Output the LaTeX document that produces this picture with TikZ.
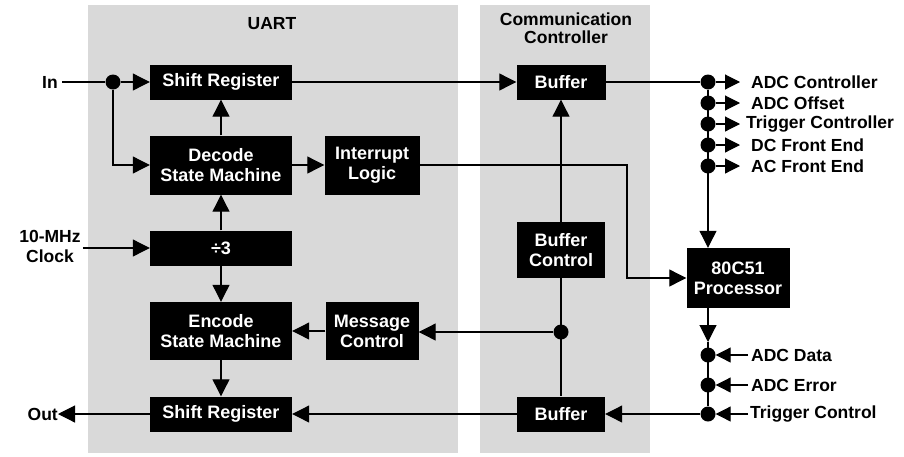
\documentclass[tikz,border=0pt]{standalone}
\usepackage{fontspec}
\setmainfont{Liberation Sans}
\usetikzlibrary{arrows.meta}
\tikzset{
  panel/.style={fill=gray!30, draw=none},
  blk/.style={fill=black, text=white, font=\fontsize{18}{20}\selectfont\bfseries, align=center, inner sep=0pt},
  lbl/.style={font=\fontsize{17.5}{20}\selectfont\bfseries, align=center, inner sep=0pt},
  wire/.style={line width=1.1pt},
  arr/.style={line width=1.1pt, -{Triangle[length=17pt,width=17pt]}},
  sarr/.style={line width=1.1pt, -{Triangle[length=15pt,width=15pt]}},
  jdot/.style={circle, fill=black, inner sep=0pt, minimum size=15pt},
}
\begin{document}
\begin{tikzpicture}[x=1pt,y=-1pt]
\useasboundingbox (0,0) rectangle (904,456);
% panels
\fill[panel] (88,5) rectangle (458,453);
\fill[panel] (480,5) rectangle (650,453);
\node[lbl] (uart) at (272,24) {UART};
\node[lbl, font=\fontsize{17.5}{18}\selectfont\bfseries] (cc) at (566,28) {Communication\\Controller};
% UART blocks
\node[blk, minimum width=142pt, minimum height=35pt] (sr1) at (221,82) {Shift Register};
\node[blk, minimum width=142pt, minimum height=59pt] (dec) at (221,165) {Decode\\State Machine};
\node[blk, minimum width=95pt, minimum height=59pt] (il) at (372,165) {Interrupt\\Logic};
\node[blk, minimum width=142pt, minimum height=35pt] (div) at (221,248) {÷3};
\node[blk, minimum width=142pt, minimum height=58pt] (enc) at (221,331) {Encode\\State Machine};
\node[blk, minimum width=93pt, minimum height=58pt] (mc) at (372,331) {Message\\Control};
\node[blk, minimum width=142pt, minimum height=35pt] (sr2) at (221,414) {Shift Register};
% Comm controller blocks
\node[blk, minimum width=89pt, minimum height=35pt] (buf1) at (561,82) {Buffer};
\node[blk, minimum width=88pt, minimum height=56pt] (bc) at (561,250) {Buffer\\Control};
\node[blk, minimum width=88pt, minimum height=35pt] (buf2) at (561,414) {Buffer};
\node[blk, minimum width=103pt, minimum height=60pt] (proc) at (738,278) {80C51\\Processor};
% left labels
\node[lbl, anchor=east] (in) at (58,82) {In};
\node[lbl] (clk) at (50,246) {10-MHz\\Clock};
\node[lbl, anchor=east] (out) at (58,414) {Out};
% junction dots
\node[jdot] (j1) at (113,82) {};
\node[jdot] (jm) at (561,332) {};
\node[jdot] (d1) at (708,82) {};
\node[jdot] (d2) at (708,103) {};
\node[jdot] (d3) at (708,124) {};
\node[jdot] (d4) at (708,145) {};
\node[jdot] (d5) at (708,166) {};
\node[jdot] (e1) at (708,355) {};
\node[jdot] (e2) at (708,385) {};
\node[jdot] (e3) at (708,414) {};
% right labels
\node[lbl, anchor=west, inner xsep=11pt] (o1) at (740,82) {ADC Controller};
\node[lbl, anchor=west, inner xsep=11pt] (o2) at (740,103) {ADC Offset};
\node[lbl, anchor=west, inner xsep=6pt] (o3) at (740,124) {Trigger Controller};
\node[lbl, anchor=west, inner xsep=11pt] (o4) at (740,145) {DC Front End};
\node[lbl, anchor=west, inner xsep=11pt] (o5) at (740,166) {AC Front End};
\node[lbl, anchor=west, inner xsep=3pt] (i1) at (748,355) {ADC Data};
\node[lbl, anchor=west, inner xsep=3pt] (i2) at (748,385) {ADC Error};
\node[lbl, anchor=west, inner xsep=2pt] (i3) at (748,414) {Trigger Control};
\coordinate (pa) at (708,342);
\coordinate (ic) at (627,165);
% UART connections
\draw[wire] (in.east) ++(4,0) -- (j1);
\draw[arr] (j1) -- (sr1.west);
\draw[arr] (j1) |- (dec.west);
\draw[arr] (dec.north) -- (sr1.south);
\draw[arr] (dec.east) -- (il.west);
\draw[arr] (div.north) -- (dec.south);
\draw[arr] (div.south) -- (enc.north);
\draw[arr] (enc.south) -- (sr2.north);
\draw[arr] (mc.west) -- (enc.east);
\draw[arr] (clk.east |- div.west) ++(2,0) -- (div.west);
\draw[arr] (sr2.west) -- (out.east);
% comm connections
\draw[arr] (sr1.east) -- (buf1.west);
\draw[arr] (bc.north) -- (buf1.south);
\draw[wire] (bc.south) -- (buf2.north);
\draw[arr] (jm) -- (jm -| mc.east);
\draw[arr] (buf2.west) -- (sr2.east);
\draw[arr] (e3) -- (buf2.east);
\draw[arr] (il.east) -- (ic) |- (proc.west);
% right bus
\draw[wire] (buf1.east) -- (d1);
\draw[arr] (d1) -- (d1 |- proc.north);
\draw[sarr] (d1) -- (o1.west);
\draw[sarr] (d2) -- (o2.west);
\draw[sarr] (d3) -- (o3.west);
\draw[sarr] (d4) -- (o4.west);
\draw[sarr] (d5) -- (o5.west);
\draw[arr] (d1 |- proc.south) -- (pa);
\draw[wire] (pa) -- (e3);
\draw[sarr] (i1.west) -- (e1);
\draw[sarr] (i2.west) -- (e2);
\draw[sarr] (i3.west) -- (e3);
\end{tikzpicture}
\end{document}
